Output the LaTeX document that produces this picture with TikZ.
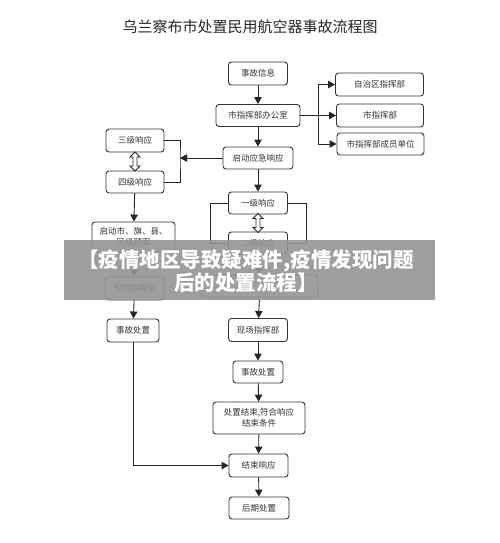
\documentclass[tikz,border=0pt]{standalone}
\usepackage{fontspec}
\setmainfont{Noto Sans CJK SC}
\usetikzlibrary{arrows.meta}
\tikzset{
	box/.style={draw=black!80, fill=white, rounded corners=3pt, line width=0.9pt, align=center, inner sep=0pt, text=black!80, font=\fontsize{8.5}{11}\selectfont},
	arr/.style={-{Triangle[length=7pt,width=7.5pt]}, line width=0.9pt, draw=black!85},
	link/.style={line width=0.9pt, draw=black!85}
}
\def\swap(#1,#2){\draw[link, fill=white, line join=miter, shift={(#1,#2)}] (-2, -4.5) -- (-5, -4.5) -- (0, -9.5) -- (5, -4.5) -- (2, -4.5) -- (2, 4.5) -- (5, 4.5) -- (0, 9.5) -- (-5, 4.5) -- (-2, 4.5) -- cycle;}

\begin{document}
\begin{tikzpicture}[x=1pt, y=-1pt]
			%%%%% START %%%%%
			
			\useasboundingbox[fill=white] (0, 0) rectangle (500, 543);
			
			\node[text=black!85, font=\fontsize{15}{18}\selectfont] (title) at (250, 27) {乌兰察布市处置民用航空器事故流程图};
			
			% right column
			\node[box, minimum width=59pt, minimum height=23pt] (info) at (258, 73.5) {事故信息};
			\node[box, minimum width=84pt, minimum height=22pt] (office) at (258, 115.5) {市指挥部办公室};
			\node[box, minimum width=70pt, minimum height=22pt] (start) at (258, 158) {启动应急响应};
			\node[box, minimum width=59pt, minimum height=22pt] (lvone) at (258, 203) {一级响应};
			\node[box, minimum width=59pt, minimum height=22pt] (lvtwo) at (258, 243) {二级响应};
			\node[box, minimum width=116pt, minimum height=22pt] (cmd) at (260, 286) {};
			\node[box, minimum width=59pt, minimum height=23pt] (siteb) at (258, 330) {现场指挥部};
			\node[box, minimum width=50pt, minimum height=22pt] (dealb) at (258, 372) {事故处置};
			\node[box, minimum width=92pt, minimum height=32pt] (finish) at (259, 418) {处置结束,符合响应\\结束条件};
			\node[box, minimum width=59pt, minimum height=23pt] (endr) at (258.5, 465.5) {结束响应};
			\node[box, minimum width=60pt, minimum height=22pt] (post) at (259, 508) {后期处置};
			
			% far right
			\node[box, minimum width=88pt, minimum height=23pt] (auto) at (379.5, 84.5) {自治区指挥部};
			\node[box, minimum width=87pt, minimum height=23pt] (city) at (380, 115.5) {市指挥部};
			\node[box, minimum width=87pt, minimum height=22pt] (member) at (380.5, 144) {市指挥部成员单位};
			
			% left column
			\node[box, minimum width=58pt, minimum height=23pt] (lvthree) at (135, 140.5) {三级响应};
			\node[box, minimum width=58pt, minimum height=22pt] (lvfour) at (135, 182) {四级响应};
			\node[box, minimum width=83pt, minimum height=30pt] (plan) at (133.5, 237) {启动市、旗、县、\\区级预案};
			\node[box, minimum width=59pt, minimum height=23pt] (sitea) at (134.5, 288.5) {现场指挥部};
			\node[box, minimum width=52pt, minimum height=23pt] (deala) at (133, 330.5) {事故处置};
			
			\coordinate (fork) at (318, 115.5);
			\coordinate (join) at (180, 158);
			
			% connectors
			\draw[arr] (info) -- (office);
			\draw[arr] (office) -- (start);
			\draw[arr] (start) -- (lvone);
			\draw[arr] (lvtwo) -- (cmd);
			\draw[arr] (cmd) -- (siteb);
			\draw[arr] (siteb) -- (dealb);
			\draw[arr] (dealb) -- (finish);
			\draw[arr] (finish) -- (endr);
			\draw[arr] (endr) -- (post);
			
			\draw[link] (office.east) -- (fork);
			\draw[arr] (fork) |- (auto.west);
			\draw[arr] (fork) -- (city.west);
			\draw[arr] (fork) |- (member.west);
			
			\draw[link] (lvthree.east) -| (join) |- (lvfour.east);
			\draw[arr] (start.west) -- (join);
			\draw[link] (lvone.west) -- ++(-18, 0) |- (lvtwo.west);
			\draw[link] (lvone.east) -- ++(18, 0) |- (lvtwo.east);
			
			\swap(135, 161.5)
			\swap(258, 223)
			
			\draw[arr] (lvfour) -- (plan);
			\draw[arr] (plan) -- (sitea);
			\draw[arr] (sitea) -- (deala);
			\draw[arr] (deala.south) |- (endr.west);
			
			% banner
			\fill[black!42, opacity=0.9] (64, 240) rectangle (435, 300);
			\node[text=white, align=center, font=\fontsize{20.5}{23}\selectfont\bfseries] (banner) at (246, 271.5) {【疫情地区导致疑难件,疫情发现问题\\后的处置流程】};
			
			%%%%% END %%%%%
\end{tikzpicture}
\end{document}
